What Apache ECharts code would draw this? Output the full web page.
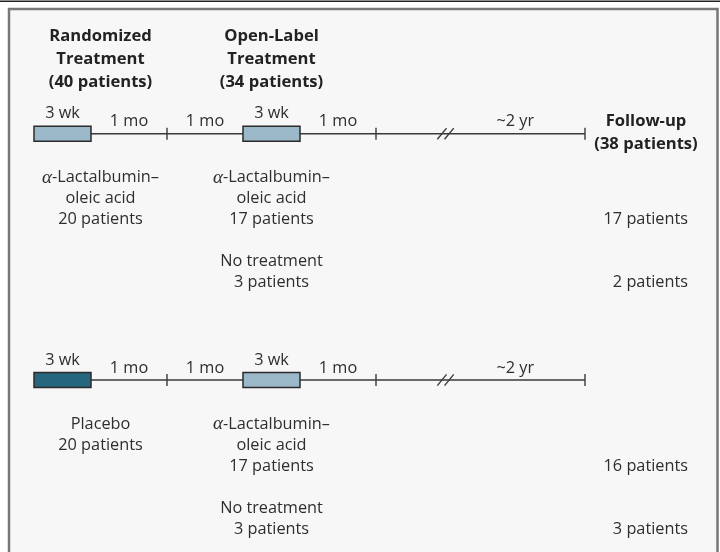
<!DOCTYPE html>
<html><head><meta charset="utf-8">
<script src="https://cdn.jsdelivr.net/npm/echarts@6/dist/echarts.min.js"></script>
<style>html,body{margin:0;padding:0;background:#fff}#c{width:720px;height:552px}</style>
</head><body><div id="c"></div>
<script>
// ---------------- data ----------------
const segmentLabels = ['3 wk', '1 mo', '1 mo', '3 wk', '1 mo', '~2 yr'];
const segmentUnits = [3, 4, 4, 3, 4, 11];          // schematic length of each phase
const treatmentSegments = [0, 3];                   // phases drawn as boxes
const tickAfterSegments = [1, 4, 5];                // phases ending with a tick
const armNames = [['{a|α}-Lactalbumin–', 'oleic acid'], ['Placebo']];
const armRandomizedN = [20, 20];
const openLabelTreated = ['{a|α}-Lactalbumin–', 'oleic acid'];
const openLabelTreatedN = [17, 17];
const openLabelUntreated = ['No treatment'];
const openLabelUntreatedN = [3, 3];
const followUpTreatedN = [17, 16];
const followUpUntreatedN = [2, 3];
const phaseTitles = [['Randomized', 'Treatment'], ['Open-Label', 'Treatment'], ['Follow-up']];
const phaseTotals = [40, 34, 38];

// ---------------- layout / style ----------------
const rowY = [133.7, 380];
const LIGHT = '#9ab8c8', DARK = '#27677e', INK = '#2e2e2e', LINE = '#3a3a3a';
const FONT = '"Open Sans", "Noto Sans", sans-serif';
const rich = { a: { fontFamily: '"Liberation Serif", "DejaVu Serif", serif', fontStyle: 'italic', fontSize: 19, fill: INK, color: INK } };

const bounds = [0];
segmentUnits.forEach(u => bounds.push(bounds[bounds.length - 1] + u));
const breakAt = bounds[5] + 3.66;

function txt(x, y, text, opts) {
  opts = opts || {};
  return {
    type: 'text',
    style: {
      text: text, x: x, y: y,
      fill: opts.fill || INK,
      font: (opts.bold ? 'bold ' : '') + (opts.size || 16.3) + 'px ' + FONT,
      align: opts.align || 'center',
      verticalAlign: 'middle',
      textAlign: opts.align || 'center',
      textVerticalAlign: 'middle',
      rich: rich
    }
  };
}

function renderItem(params, api) {
  const arm = api.value(0);
  const y0 = rowY[arm];
  const px = u => api.coord([u, 0])[0];
  const children = [];
  // main line
  children.push({ type: 'line', shape: { x1: px(bounds[0]), y1: y0, x2: px(bounds[6]), y2: y0 },
    style: { stroke: LINE, lineWidth: 1.6 } });
  // ticks
  tickAfterSegments.forEach(s => {
    const x = px(bounds[s + 1]);
    children.push({ type: 'line', shape: { x1: x, y1: y0 - 6, x2: x, y2: y0 + 6 }, style: { stroke: LINE, lineWidth: 1.4 } });
  });
  // break marks
  const bx = px(breakAt);
  [-3.6, 3.6].forEach(d => {
    children.push({ type: 'line', shape: { x1: bx + d - 4.6, y1: y0 + 5.6, x2: bx + d + 4.6, y2: y0 - 5.6 },
      style: { stroke: LINE, lineWidth: 1.4 } });
  });
  // treatment boxes
  treatmentSegments.forEach(s => {
    const xa = px(bounds[s]), xb = px(bounds[s + 1]);
    const fill = (s === 0 && arm === 1) ? DARK : LIGHT;
    children.push({ type: 'rect', shape: { x: xa, y: y0 - 7.5, width: xb - xa, height: 15 },
      style: { fill: fill, stroke: '#2b2b2b', lineWidth: 1.5 } });
  });
  // segment labels
  segmentLabels.forEach((lab, s) => {
    let cx = px((bounds[s] + bounds[s + 1]) / 2);
    let dy = -12;
    if (treatmentSegments.indexOf(s) >= 0) dy = -20;
    if (s === 5) cx = px((breakAt + bounds[6]) / 2);
    children.push(txt(cx, y0 + dy, lab));
  });
  // column 1 (randomized arm)
  const c1 = px((bounds[0] + bounds[2]) / 2);
  const c2 = px((bounds[2] + bounds[5]) / 2);
  const lh = 21;
  const col1 = armNames[arm].concat([armRandomizedN[arm] + ' patients']);
  col1.forEach((t, i) => children.push(txt(c1, y0 + 44 + i * lh, t)));
  // column 2 (open-label)
  const col2 = openLabelTreated.concat([openLabelTreatedN[arm] + ' patients']);
  col2.forEach((t, i) => children.push(txt(c2, y0 + 44 + i * lh, t)));
  const col2b = openLabelUntreated.concat([openLabelUntreatedN[arm] + ' patients']);
  col2b.forEach((t, i) => children.push(txt(c2, y0 + 128 + i * lh, t)));
  // follow-up counts
  const xr = px(bounds[6]) + 103;
  children.push(txt(xr, y0 + 86, followUpTreatedN[arm] + ' patients', { align: 'right' }));
  children.push(txt(xr, y0 + 149, followUpUntreatedN[arm] + ' patients', { align: 'right' }));
  // headers (drawn once)
  if (arm === 0) {
    const hx = [c1, c2];
    [0, 1].forEach(p => {
      const lines = phaseTitles[p].concat(['(' + phaseTotals[p] + ' patients)']);
      lines.forEach((t, i) => children.push(txt(hx[p], 36 + i * 23, t, { bold: true, size: 16.6, fill: '#222' })));
    });
    const fx = px(bounds[6]) + 61;
    const flines = phaseTitles[2].concat(['(' + phaseTotals[2] + ' patients)']);
    flines.forEach((t, i) => children.push(txt(fx, y0 - 12 + i * 23, t, { bold: true, size: 16.6, fill: '#222' })));
  }
  return { type: 'group', children: children };
}

const chart = echarts.init(document.getElementById('c'), null, { renderer: 'canvas' });
chart.setOption({
  animation: false,
  backgroundColor: '#ffffff',
  graphic: [
    { type: 'rect', shape: { x: 9, y: 9, width: 708.5, height: 560 }, style: { fill: '#f7f7f7', stroke: '#777', lineWidth: 2.5 }, z: -10 },
    { type: 'rect', shape: { x: 0, y: 0.5, width: 720, height: 1.6 }, style: { fill: '#222' }, z: -10 }
  ],
  grid: { left: 34, width: 570, top: 0, height: 552 },
  xAxis: { type: 'value', min: 0, max: 30, show: false },
  yAxis: { type: 'value', min: 0, max: 552, inverse: true, show: false },
  series: [{
    type: 'custom',
    renderItem: renderItem,
    data: armNames.map((_, i) => [i]),
    clip: false,
    silent: true
  }]
});
</script>
</body></html>
